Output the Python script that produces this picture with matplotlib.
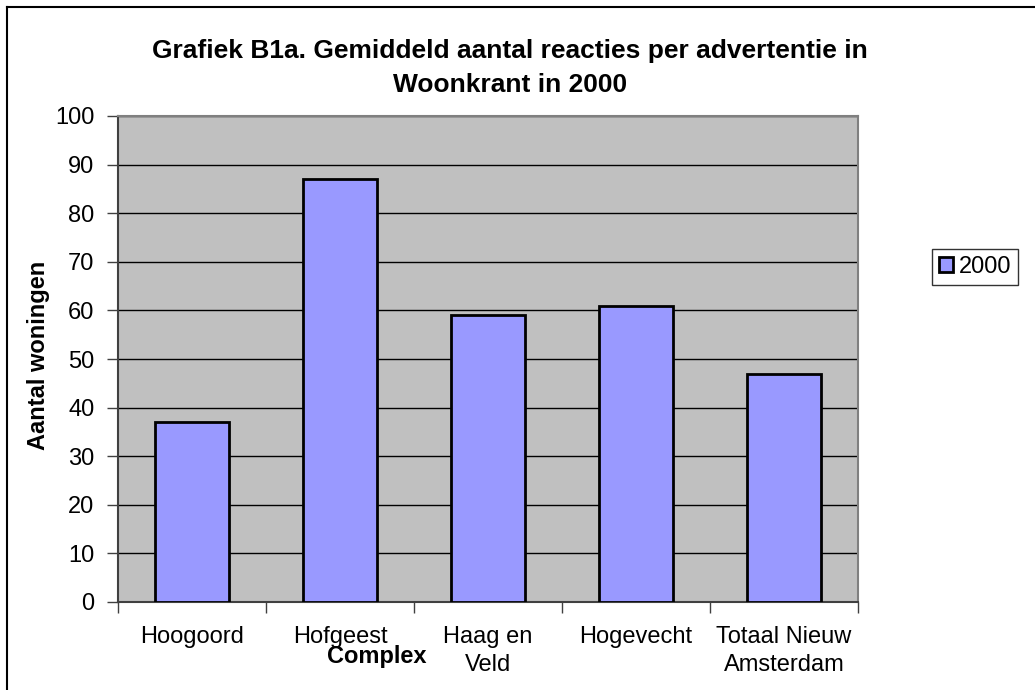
import matplotlib.pyplot as plt
from matplotlib.lines import Line2D

# data
complexen = ['Hoogoord', 'Hofgeest', 'Haag en\nVeld', 'Hogevecht', 'Totaal Nieuw\nAmsterdam']
reacties_2000 = [37, 87, 59, 61, 47]

plt.rcParams['font.family'] = ['Liberation Sans', 'DejaVu Sans']

fig = plt.figure(figsize=(10.35, 6.9), dpi=100)
ax = fig.add_axes([118/1035, 1 - 602/690, 740/1035, 486/690])

ax.set_facecolor('#C0C0C0')
x = list(range(len(complexen)))
ax.bar(x, reacties_2000, width=0.5, color='#9999FF', edgecolor='black',
       linewidth=2, zorder=3, label='2000')

ax.set_xlim(-0.5, len(complexen) - 0.5)
ax.set_ylim(0, 100)
ax.set_yticks(range(0, 101, 10))
ax.yaxis.grid(True, color='black', linewidth=1, zorder=1)

# category labels between boundary ticks
ax.set_xticks([i + 0.5 for i in range(-1, len(complexen))])
ax.set_xticklabels([])
ax.set_xticks(x, minor=True)
ax.set_xticklabels(complexen, minor=True, fontsize=17, linespacing=1.35)
ax.tick_params(axis='x', which='minor', length=0, pad=17)
ax.tick_params(axis='x', which='major', length=8, width=1, color='#404040')
ax.tick_params(axis='y', length=8, width=1, color='#404040', labelsize=17, pad=9)

for s in ['top', 'right']:
    ax.spines[s].set_color('#808080')
    ax.spines[s].set_linewidth(1.5)
for s in ['left', 'bottom']:
    ax.spines[s].set_color('#404040')
    ax.spines[s].set_linewidth(1.5)

fig.text(510/1035, 1 - 51/690, 'Grafiek B1a. Gemiddeld aantal reacties per advertentie in',
         ha='center', va='center', fontsize=19, fontweight='bold')
fig.text(510/1035, 1 - 85/690, 'Woonkrant in 2000',
         ha='center', va='center', fontsize=19, fontweight='bold')
fig.text(39/1035, 1 - 355/690, 'Aantal woningen', rotation=90,
         ha='center', va='center', fontsize=17, fontweight='bold')
fig.text(377/1035, 1 - 656/690, 'Complex',
         ha='center', va='center', fontsize=17, fontweight='bold')

leg = fig.legend(handles=[plt.Rectangle((0, 0), 1, 1, facecolor='#9999FF',
                                        edgecolor='black', linewidth=2)],
                 labels=['2000'], loc='center', bbox_to_anchor=(975/1035, 1 - 267/690),
                 fontsize=17, frameon=True, fancybox=False, handlelength=0.6,
                 handleheight=0.6, handletextpad=0.25, borderpad=0.3, borderaxespad=0)
leg.get_frame().set_edgecolor('black')
leg.get_frame().set_linewidth(1)

# outer chart border (left and top)
fig.add_artist(Line2D([7/1035, 7/1035], [0, 1 - 7/690], color='black', linewidth=1.5))
fig.add_artist(Line2D([7/1035, 1], [1 - 7/690, 1 - 7/690], color='black', linewidth=1.5))

fig.savefig('out.png', dpi=100)
